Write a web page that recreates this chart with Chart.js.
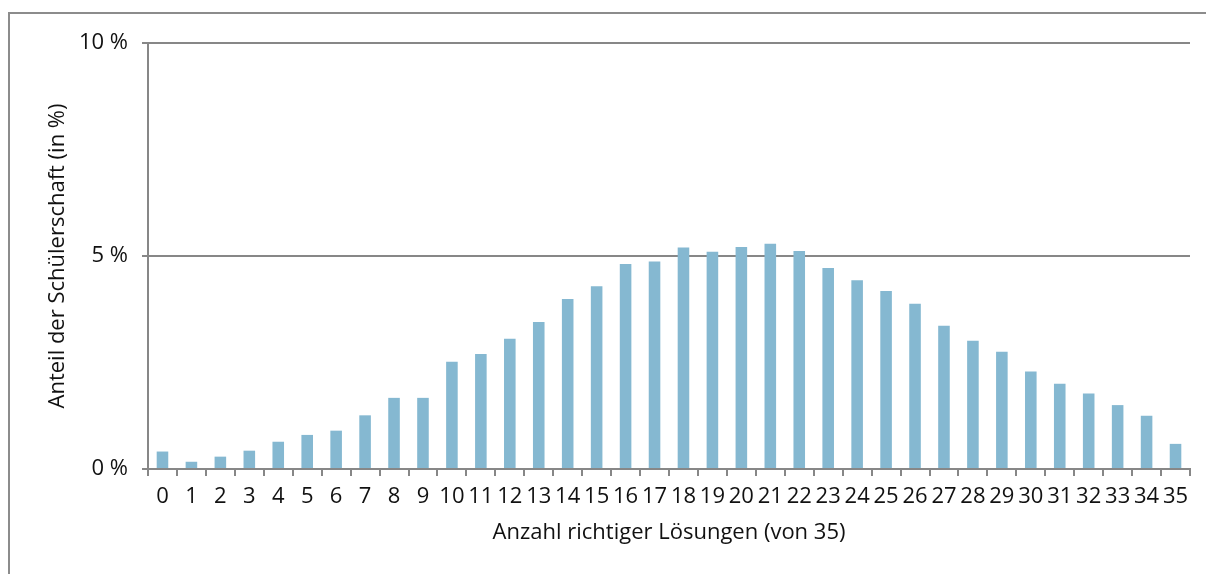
<!DOCTYPE html>
<html lang="de">
<head>
<meta charset="utf-8">
<script src="https://cdn.jsdelivr.net/npm/chart.js@4"></script>
<style>
  html, body { margin: 0; padding: 0; background: #fff; }
  #wrap { width: 1206px; height: 574px; position: relative; }
</style>
</head>
<body>
<div id="wrap"><canvas id="chart"></canvas></div>
<script>
// Anzahl richtiger Lösungen (0 bis 35)
const categories = ['0','1','2','3','4','5','6','7','8','9','10','11','12','13','14','15','16','17',
  '18','19','20','21','22','23','24','25','26','27','28','29','30','31','32','33','34','35'];

// Anteil der Schülerschaft in %
const shares = [0.41, 0.17, 0.29, 0.43, 0.64, 0.80, 0.90, 1.26, 1.67, 1.67,
  2.52, 2.70, 3.06, 3.45, 3.99, 4.29, 4.81, 4.87, 5.20, 5.10,
  5.21, 5.29, 5.12, 4.72, 4.43, 4.18, 3.88, 3.36, 3.01, 2.75,
  2.29, 2.00, 1.77, 1.50, 1.25, 0.59];

const yTicks = [0, 5, 10];

const axisGray = '#878787';
const textFont = { family: '"Open Sans", sans-serif', size: 22 };

// Rahmen um die Grafik
const framePlugin = {
  id: 'frame',
  beforeDraw(chart) {
    const ctx = chart.ctx;
    ctx.save();
    ctx.strokeStyle = '#8c8c8c';
    ctx.lineWidth = 2;
    ctx.strokeRect(9, 13, 1400, 1000);
    ctx.restore();
  }
};

new Chart(document.getElementById('chart'), {
  type: 'bar',
  data: {
    labels: categories,
    datasets: [{
      data: shares,
      backgroundColor: '#85b8d1',
      barPercentage: 0.4,
      categoryPercentage: 1.0,
    }],
  },
  options: {
    responsive: true,
    maintainAspectRatio: false,
    animation: false,
    layout: { padding: { left: 0, top: 43, right: 16, bottom: 0 } },
    plugins: { legend: { display: false }, tooltip: { enabled: false } },
    scales: {
      x: {
        afterFit(scale) { scale.height = 105; },
        grid: { drawOnChartArea: false, drawTicks: true, tickLength: 7, color: axisGray, lineWidth: 2 },
        border: { color: axisGray, width: 2 },
        ticks: { autoSkip: false, maxRotation: 0, padding: 8, color: '#111', font: textFont },
        title: {
          display: true,
          text: 'Anzahl richtiger Lösungen (von 35)',
          color: '#111',
          font: { ...textFont, lineHeight: 1.2 },
          padding: { top: 0, bottom: 28 },
        },
      },
      y: {
        min: 0,
        max: 10,
        afterFit(scale) { scale.width = 148; },
        afterBuildTicks(scale) { scale.ticks = yTicks.map(v => ({ value: v })); },
        grid: { color: axisGray, lineWidth: 2, tickLength: 6 },
        border: { color: axisGray, width: 2 },
        ticks: { padding: 14, color: '#111', font: textFont, callback: v => v + ' %' },
        title: {
          display: true,
          text: 'Anteil der Schülerschaft (in %)',
          color: '#111',
          font: { ...textFont, lineHeight: 1.2 },
          padding: { top: 45, bottom: 0 },
        },
      },
    },
  },
  plugins: [framePlugin],
});
</script>
</body>
</html>
